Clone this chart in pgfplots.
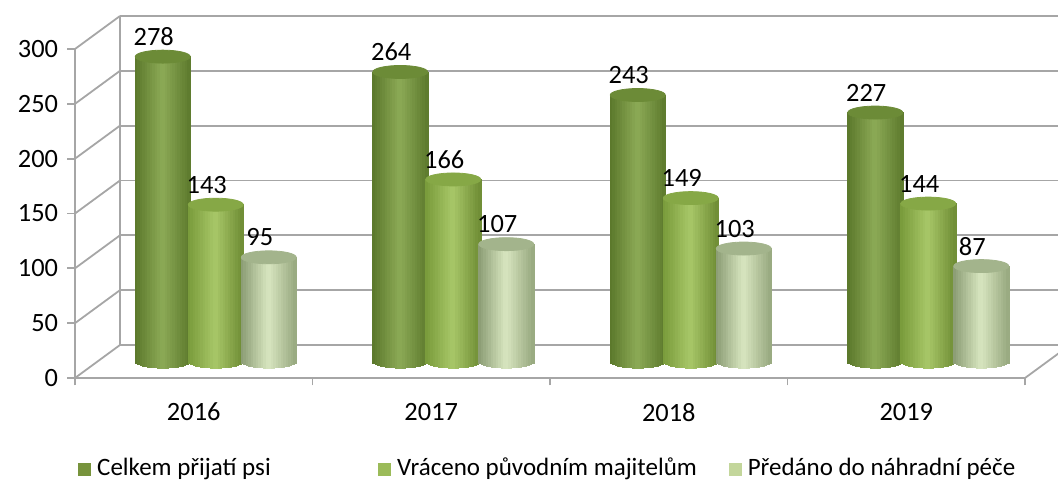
\documentclass[border=0pt]{standalone}
\usepackage{pgfplots}
\usepackage{pgfplotstable}
\pgfplotsset{compat=1.18}
\usepackage{fontspec}
\setmainfont{Carlito}

\definecolor{gridc}{HTML}{A6A6A6}
\definecolor{c1l}{HTML}{5A772A}
\definecolor{c1m}{HTML}{8CAA56}
\definecolor{c1r}{HTML}{5D7A2D}
\definecolor{c1t}{HTML}{6C8B37}
\definecolor{c1g}{HTML}{77933C}
\definecolor{c2l}{HTML}{789A3A}
\definecolor{c2m}{HTML}{A8C768}
\definecolor{c2r}{HTML}{6E8C34}
\definecolor{c2t}{HTML}{86A846}
\definecolor{c2g}{HTML}{9BBB59}
\definecolor{c3l}{HTML}{8A9B73}
\definecolor{c3m}{HTML}{D8E6C0}
\definecolor{c3r}{HTML}{97A87F}
\definecolor{c3t}{HTML}{A3B48C}
\definecolor{c3g}{HTML}{C3D69B}

\pgfdeclareplotmark{nothing}{}

\pgfplotstableread{
x y
0.5 278
1.5 264
2.5 243
3.5 227
}\serA
\pgfplotstableread{
x y
0.5 143
1.5 166
2.5 149
3.5 144
}\serB
\pgfplotstableread{
x y
0.5 95
1.5 107
2.5 103
3.5 87
}\serC

\pgfplotsset{
  cylbar/.style n args={5}{only marks, mark=nothing, scatter,
    visualization depends on={rawy \as \yval},
    scatter/@pre marker code/.code={%
      \pgfmathsetmacro\cylH{\yval*0.548333}%
      \foreach \i in {0,...,21} {%
        \pgfmathsetmacro\cxa{#5-13.75+\i*1.25}%
        \pgfmathsetmacro\cxb{\cxa+1.35}%
        \pgfmathsetmacro\cxc{(\i*1.25+0.625-13.75)/13.75}%
        \pgfmathsetmacro\cyb{-\cylH-3.25*sqrt(max(0,1-\cxc*\cxc))}%
        \ifnum\i<11
          \pgfmathtruncatemacro\cp{100*(\i+0.5)/11}%
          \fill[#2!\cp!#1] (\cxa pt,0pt) rectangle (\cxb pt,\cyb pt);
        \else
          \pgfmathtruncatemacro\cp{100*(\i-10.5)/11}%
          \fill[#3!\cp!#2] (\cxa pt,0pt) rectangle (\cxb pt,\cyb pt);
        \fi
      }%
      \fill[#4] (#5pt,0pt) ellipse [x radius=13.75pt, y radius=3.25pt];
    },
    scatter/@post marker code/.code={}},
  barlabel/.style={only marks, mark=nothing, nodes near coords,
    every node near coord/.append style={xshift=#1}}
}

\begin{document}
\begin{tikzpicture}
\useasboundingbox (0pt,0pt) rectangle (529pt,243pt);

% back wall
\begin{axis}[at={(60pt,70.5pt)}, anchor=south west, scale only axis,
  width=469pt, height=164.5pt, xmin=0, xmax=1, ymin=0, ymax=300,
  ytick={0,50,...,300}, yticklabels={}, xtick=\empty, major tick length=0pt,
  axis line style={draw=none}, ymajorgrids,
  grid style={gridc, line width=0.9pt}, clip=false]
\draw[gridc, line width=0.9pt] (axis cs:0,0) -- (axis cs:0,300);
\end{axis}

% front axis
\begin{axis}[at={(37.5pt,54pt)}, anchor=south west, scale only axis,
  width=475pt, height=164.5pt, xmin=0, xmax=4, ymin=0, ymax=300,
  axis x line*=bottom, axis y line*=left,
  axis line style={gridc, line width=0.9pt},
  ytick={0,50,...,300},
  xtick={0,1,2,3,4}, xticklabels={},
  extra x ticks={0.5,1.5,2.5,3.5},
  extra x tick labels={2016,2017,2018,2019},
  extra x tick style={major tick length=0pt, xticklabel style={yshift=-9pt}},
  tick align=outside, major tick length=3.75pt,
  tick style={gridc, line width=0.9pt},
  tick label style={font=\fontsize{13.2}{15}\selectfont, text=black},
  /pgf/number format/assume math mode=true,
  yticklabel style={xshift=-1.2pt},
  clip=false]
\pgfplotsinvokeforeach{0,50,100,150,200,250,300}{
  \draw[gridc, line width=0.9pt] (axis cs:0,#1) -- ++(22.5pt,16.5pt);
}
\draw[gridc, line width=0.9pt] (axis cs:4,0) -- ++(22.5pt,16.5pt);
\end{axis}

% bars (middle plane)
\begin{axis}[at={(48.5pt,62.25pt)}, anchor=south west, scale only axis,
  width=475pt, height=164.5pt, xmin=0, xmax=4, ymin=0, ymax=300,
  hide axis, clip=false,
  /pgf/number format/assume math mode=true,
  every node near coord/.append style={text=black, font=\fontsize{13.2}{15}\selectfont,
     anchor=center, inner sep=0pt, yshift=10pt},
  legend style={at={(axis description cs:0,0)}, anchor=west, xshift=-9.5pt, yshift=-53.25pt,
     draw=none, fill=none, inner sep=0pt, font=\fontsize{12.5}{15}\selectfont,
     nodes={inner sep=0pt},
     /tikz/every even column/.append style={column sep=0pt},
     /tikz/every odd column/.append style={column sep=0pt}},
  legend columns=3, legend cell align=left]

\addplot[cylbar={c1l}{c1m}{c1r}{c1t}{-26.5}, forget plot] table {\serA};
\addplot[cylbar={c2l}{c2m}{c2r}{c2t}{0}, forget plot] table {\serB};
\addplot[cylbar={c3l}{c3m}{c3r}{c3t}{26.5}, forget plot] table {\serC};

\addplot[barlabel=-31pt, forget plot] table {\serA};
\addplot[barlabel=-4.5pt, forget plot] table {\serB};
\addplot[barlabel=22pt, forget plot] table {\serC};

\addlegendimage{legend image code/.code={\fill[c1g] (0pt,-3.75pt) rectangle (6pt,2.5pt);}}
\addlegendentry{\hspace{3pt}\makebox[140.5pt][l]{Celkem přijatí psi}}
\addlegendimage{legend image code/.code={\fill[c2g] (0pt,-3.75pt) rectangle (6pt,2.5pt);}}
\addlegendentry{\hspace{3pt}\makebox[166pt][l]{Vráceno původním majitelům}}
\addlegendimage{legend image code/.code={\fill[c3g] (0pt,-3.75pt) rectangle (6pt,2.5pt);}}
\addlegendentry{\hspace{3pt}Předáno do náhradní péče}
\end{axis}
\end{tikzpicture}
\end{document}
